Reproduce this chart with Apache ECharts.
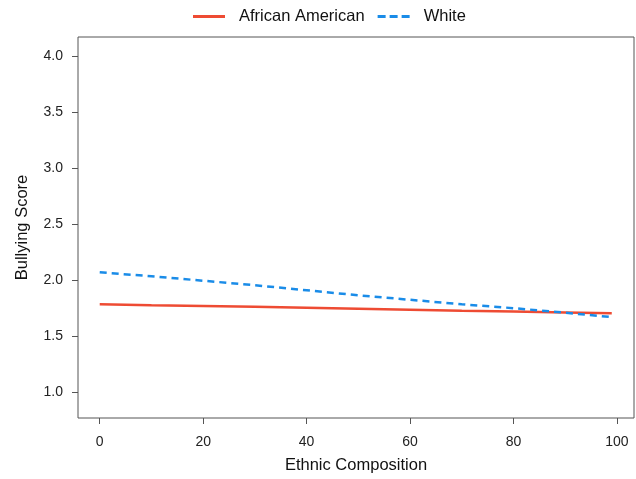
<!DOCTYPE html>
<html>
<head>
<meta charset="utf-8">
<script src="https://cdn.jsdelivr.net/npm/echarts@6/dist/echarts.min.js"></script>
<style>html,body{margin:0;padding:0;background:#fff}#c{width:636px;height:479px}</style>
</head>
<body>
<div id="c"></div>
<script>
var composition = [0, 10, 20, 30, 40, 50, 60, 70, 80, 90, 99];
var africanAmerican = [1.785, 1.777, 1.770, 1.762, 1.754, 1.746, 1.737, 1.728, 1.720, 1.712, 1.705];
var white = [2.07, 2.035, 1.995, 1.955, 1.91, 1.865, 1.825, 1.785, 1.75, 1.71, 1.67];
var yTicks = [1.0, 1.5, 2.0, 2.5, 3.0, 3.5, 4.0];
var xTicks = [0, 20, 40, 60, 80, 100];

function pairs(xs, ys) { return xs.map(function (x, i) { return [x, ys[i]]; }); }

var chart = echarts.init(document.getElementById('c'), null, { renderer: 'canvas' });
var font = 'Liberation Sans, Arial, sans-serif';
chart.setOption({
  animation: false,
  textStyle: { fontFamily: font },
  legend: {
    top: 8, left: 193, padding: 0, itemWidth: 32, itemHeight: 10, itemGap: 13,
    textStyle: { fontSize: 16.5, color: '#111', fontFamily: font, padding: [0, 0, 0, 9] },
    data: [
      { name: 'African American', icon: 'path://M0,0 L32,0 L32,3 L0,3 Z', itemStyle: { color: '#EE4B33' } },
      { name: 'White', icon: 'path://M0,0 L8,0 L8,3 L0,3 Z M12,0 L20,0 L20,3 L12,3 Z M24,0 L32,0 L32,3 L24,3 Z', itemStyle: { color: '#1A8CE8' } }
    ]
  },
  grid: { left: 78, right: 2, top: 37, bottom: 57, show: true, borderColor: '#555', borderWidth: 1, backgroundColor: 'transparent' },
  xAxis: {
    type: 'value', min: -4.2, max: 103.3,
    name: 'Ethnic Composition', nameLocation: 'middle', nameGap: 39,
    nameTextStyle: { fontSize: 16.5, color: '#111', fontFamily: font },
    axisLine: { show: false, onZero: false },
    axisTick: { show: true, length: 6, lineStyle: { color: '#555' }, customValues: xTicks },
    axisLabel: { fontSize: 14, color: '#222', margin: 17, customValues: xTicks, fontFamily: font },
    splitLine: { show: false }
  },
  yAxis: {
    type: 'value', min: 0.77, max: 4.17,
    name: 'Bullying Score', nameLocation: 'middle', nameGap: 47, nameRotate: 90,
    nameTextStyle: { fontSize: 16.5, color: '#111', fontFamily: font },
    axisLine: { show: false, onZero: false },
    axisTick: { show: true, length: 6, lineStyle: { color: '#555' }, customValues: yTicks },
    axisLabel: { fontSize: 14, color: '#222', margin: 15, customValues: yTicks, fontFamily: font,
      formatter: function (v) { return v.toFixed(1); } },
    splitLine: { show: false }
  },
  series: [
    { name: 'African American', type: 'line', data: pairs(composition, africanAmerican), showSymbol: false,
      lineStyle: { color: '#EE4B33', width: 2.5 }, itemStyle: { color: '#EE4B33' } },
    { name: 'White', type: 'line', data: pairs(composition, white), showSymbol: false,
      lineStyle: { color: '#1A8CE8', width: 2.5, type: [7, 5] }, itemStyle: { color: '#1A8CE8' } }
  ]
});
</script>
</body>
</html>
